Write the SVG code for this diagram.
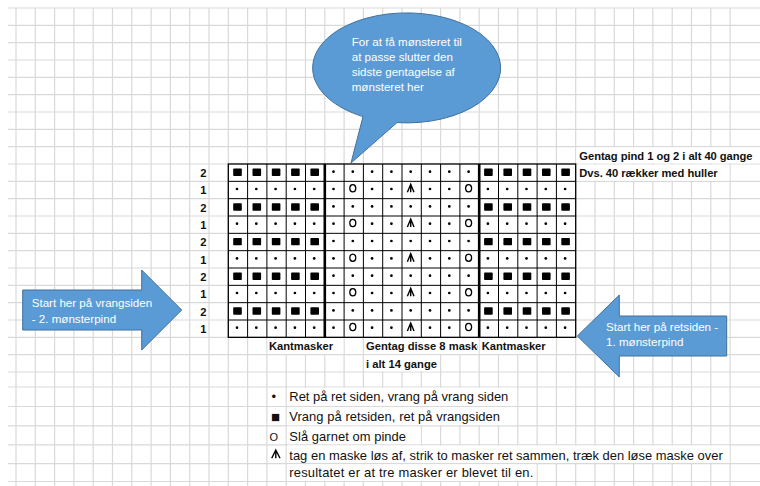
<svg xmlns="http://www.w3.org/2000/svg" width="760" height="486" viewBox="0 0 760 486">
<defs>
<style>
.grid{fill:none;stroke:#d9d9d9;stroke-width:1.2}
.mask{fill:#fff}
.cell{fill:#111;font-family:"Liberation Sans",Arial,sans-serif;font-weight:bold;font-size:11.2px}
.leg{fill:#111;font-family:"Liberation Sans",Arial,sans-serif;font-size:12.95px}
.wt{fill:#fff;font-family:"Liberation Sans",Arial,sans-serif;font-size:11.6px}
.shape{fill:#5b9bd5;stroke:#41719c;stroke-width:1}
.thin{fill:none;stroke:#000;stroke-width:1}
.thick{fill:none;stroke:#000;stroke-width:2.6}
.yo{fill:none;stroke:#000;stroke-width:1.3}
.dec{fill:none;stroke:#000;stroke-width:1.4}
</style>
<circle id="d" r="1.35" fill="#000"/>
<rect id="s" x="-4.3" y="-3.4" width="8.6" height="7.4" rx="0.8" fill="#000"/>
<ellipse id="o" rx="3" ry="3.6" class="yo"/>
<path id="k" d="M-3.3,4 L0,-4 L3.3,4 M0,-4 V4" class="dec"/>
<g id="rowA">
<use href="#s" x="237.5" y="0.3"/><use href="#s" x="256.8" y="0.3"/><use href="#s" x="276.1" y="0.3"/><use href="#s" x="295.4" y="0.3"/><use href="#s" x="314.7" y="0.3"/>
<use href="#d" x="333.5"/><use href="#d" x="352.8"/><use href="#d" x="372.1"/><use href="#d" x="391.4"/><use href="#d" x="410.7"/><use href="#d" x="430"/><use href="#d" x="449.3"/><use href="#d" x="468.6"/>
<use href="#s" x="488.4" y="0.3"/><use href="#s" x="507.7" y="0.3"/><use href="#s" x="527" y="0.3"/><use href="#s" x="546.3" y="0.3"/><use href="#s" x="565.6" y="0.3"/>
</g>
<g id="rowB">
<use href="#d" x="237"/><use href="#d" x="256.3"/><use href="#d" x="275.6"/><use href="#d" x="294.9"/><use href="#d" x="314.2"/>
<use href="#d" x="333.5"/><use href="#o" x="352.8" y="-0.7"/><use href="#d" x="372.1"/><use href="#d" x="391.4"/><use href="#k" x="410.7" y="-0.7"/><use href="#d" x="430"/><use href="#d" x="449.3"/><use href="#o" x="468.6" y="-0.7"/>
<use href="#d" x="487.9"/><use href="#d" x="507.2"/><use href="#d" x="526.5"/><use href="#d" x="545.8"/><use href="#d" x="565.1"/>
</g>
<clipPath id="clipG"><rect x="363.4" y="337" width="114.6" height="18"/></clipPath>
</defs>
<rect width="760" height="486" fill="#fff"/>
<g id="sheet-grid">
<path class="grid" d="M16,8V486M35.3,8V486M54.6,8V486M73.9,8V486M93.2,8V486M112.5,8V486M131.8,8V486M151.1,8V486M170.4,8V486M189.7,8V486M209,8V486M228.3,8V486M247.6,8V486M266.9,8V486M286.2,8V486M305.5,8V486M324.8,8V486M344.1,8V486M363.4,8V486M382.7,8V486M402,8V486M421.3,8V486M440.6,8V486M459.9,8V486M479.2,8V486M498.5,8V486M517.8,8V486M537.1,8V486M556.4,8V486M575.7,8V486M595,8V486M614.3,8V486M633.6,8V486M652.9,8V486M672.2,8V486M691.5,8V486M710.8,8V486M730.1,8V486"/>
<path class="grid" d="M8,8H760M8,25.33H760M8,42.67H760M8,60H760M8,77.33H760M8,94.67H760M8,112H760M8,129.33H760M8,146.67H760M8,164H760M8,181.33H760M8,198.67H760M8,216H760M8,233.33H760M8,250.67H760M8,268H760M8,285.33H760M8,302.67H760M8,320H760M8,337.33H760M8,354.67H760M8,372H760M8,387H760M8,406.5H760M8,425.8H760M8,444.8H760M8,463.7H760M8,481.5H760"/>
<g id="overflow-masks">
<rect class="mask" x="576.4" y="147.3" width="183.6" height="16"/>
<rect class="mask" x="576.4" y="164.7" width="153" height="16"/>
<rect class="mask" x="267.6" y="338" width="75.8" height="16"/>
<rect class="mask" x="364.1" y="338" width="114.4" height="16"/>
<rect class="mask" x="479.9" y="338" width="75.8" height="16"/>
<rect class="mask" x="364.1" y="355.3" width="75.8" height="16"/>
<rect class="mask" x="286.9" y="387.7" width="230.2" height="18.1"/>
<rect class="mask" x="286.9" y="407.2" width="230.2" height="17.9"/>
<rect class="mask" x="286.9" y="426.5" width="133.7" height="17.6"/>
<rect class="mask" x="286.9" y="445.5" width="442.5" height="17.5"/>
<rect class="mask" x="286.9" y="464.4" width="249.5" height="16.4"/>
</g>
</g>
<g id="chart">
<rect x="228.3" y="164" width="347.4" height="173.33" fill="#fff"/>
<path class="thin" d="M228.3,181.33H575.7M228.3,198.67H575.7M228.3,216H575.7M228.3,233.33H575.7M228.3,250.67H575.7M228.3,268H575.7M228.3,285.33H575.7M228.3,302.67H575.7M228.3,320H575.7M247.6,164V337.33M266.9,164V337.33M286.2,164V337.33M305.5,164V337.33M344.1,164V337.33M363.4,164V337.33M382.7,164V337.33M402,164V337.33M421.3,164V337.33M440.6,164V337.33M459.9,164V337.33M498.5,164V337.33M517.8,164V337.33M537.1,164V337.33M556.4,164V337.33"/>
<rect x="228.3" y="164" width="347.4" height="173.33" fill="none" stroke="#000" stroke-width="1.3"/>
<path class="thick" d="M324.8,164V337.33M479.2,164V337.33"/>
<use href="#rowA" y="171.7"/>
<use href="#rowB" y="189"/>
<use href="#rowA" y="206.4"/>
<use href="#rowB" y="223.7"/>
<use href="#rowA" y="241"/>
<use href="#rowB" y="258.4"/>
<use href="#rowA" y="275.7"/>
<use href="#rowB" y="293"/>
<use href="#rowA" y="310.4"/>
<use href="#rowB" y="327.7"/>
</g>
<g id="row-labels" class="cell" text-anchor="end">
<text x="206.5" y="177">2</text>
<text x="206.5" y="194.3">1</text>
<text x="206.5" y="211.7">2</text>
<text x="206.5" y="229">1</text>
<text x="206.5" y="246.3">2</text>
<text x="206.5" y="263.7">1</text>
<text x="206.5" y="281">2</text>
<text x="206.5" y="298.3">1</text>
<text x="206.5" y="315.7">2</text>
<text x="206.5" y="333">1</text>
</g>
<g id="repeat-note" class="cell">
<text x="579.3" y="159.7" textLength="173.3">Gentag pind 1 og 2 i alt 40 gange</text>
<text x="579.3" y="177" textLength="138.4">Dvs. 40 rækker med huller</text>
</g>
<g id="chart-captions" class="cell">
<text x="269" y="350.3" textLength="64">Kantmasker</text>
<text x="366" y="350.3" clip-path="url(#clipG)">Gentag disse 8 masker</text>
<text x="481.7" y="350.3" textLength="64">Kantmasker</text>
<text x="366" y="367.7" textLength="71">i alt 14 gange</text>
</g>
<g id="legend">
<text class="leg" x="271.5" y="401.4">•</text>
<text class="leg" x="271" y="421.6" style="font-size:15px">■</text>
<text class="leg" x="269.5" y="440.6" style="font-size:11px">O</text>
<path class="dec" d="M271.7,458.3 L275.8,450 L280,458.3 M275.8,450 V458.3"/>
<text class="leg" x="289.3" y="401.4" textLength="219">Ret på ret siden, vrang på vrang siden</text>
<text class="leg" x="289.3" y="421.4" textLength="210.7">Vrang på retsiden, ret på vrangsiden</text>
<text class="leg" x="289.3" y="440.7" textLength="116.7">Slå garnet om pinde</text>
<text class="leg" x="289.3" y="459.7" textLength="433.4">tag en maske løs af, strik to masker ret sammen, træk den løse maske over</text>
<text class="leg" x="289.3" y="477.4" textLength="244">resultatet er at tre masker er blevet til en.</text>
</g>
<g id="callout">
<path class="shape" d="M363,116.6 A94,55 0 1 1 397,122.6 L351,163 Z"/>
<text class="wt" x="351.7" y="45.9">For at få mønsteret til</text>
<text class="wt" x="351.7" y="60.9">at passe slutter den</text>
<text class="wt" x="351.7" y="75.9">sidste gentagelse af</text>
<text class="wt" x="351.7" y="90.9">mønsteret her</text>
</g>
<g id="arrow-left">
<polygon class="shape" points="22.7,290 141.7,290 141.7,270 181.7,310 141.7,350 141.7,330 22.7,330"/>
<text class="wt" x="31.7" y="306.9">Start her på vrangsiden</text>
<text class="wt" x="31.7" y="322.5">- 2. mønsterpind</text>
</g>
<g id="arrow-right">
<polygon class="shape" points="577.3,336 619.3,295 619.3,316 726.7,316 726.7,356 619.3,356 619.3,377"/>
<text class="wt" x="606" y="330.9">Start her på retsiden -</text>
<text class="wt" x="606" y="345.9">1. mønsterpind</text>
</g>
</svg>
